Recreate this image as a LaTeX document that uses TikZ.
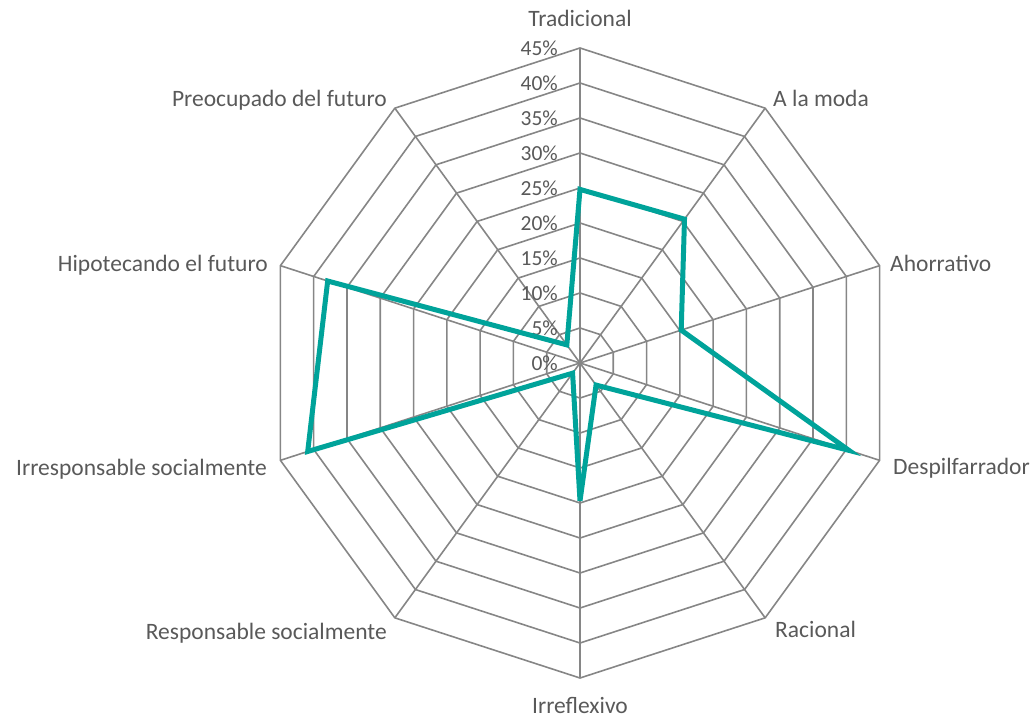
\documentclass[tikz,border=0pt]{standalone}
\usepackage{fontspec}
\setmainfont{Carlito}
\definecolor{gridgray}{HTML}{868686}
\definecolor{txtgray}{HTML}{595959}
\definecolor{dataline}{HTML}{00A39A}
\begin{document}
\begin{tikzpicture}[x=1pt,y=1pt,
  gridline/.style={gridgray, line width=1.6pt},
  catlabel/.style={text=txtgray, inner sep=0pt, font=\fontsize{23.5}{28}\selectfont},
  pctlabel/.style={text=txtgray, inner sep=0pt, anchor=base east, font=\fontsize{21.5}{26}\selectfont},
  series/.style={dataline, line width=5pt, line join=miter}]
\useasboundingbox (-580,-354) rectangle (456,363);
% grid decagons
\foreach \i in {1,...,9}{
  \pgfmathsetmacro\R{35*\i}
  \draw[gridline] (90:\R) -- (126:\R) -- (162:\R) -- (198:\R) -- (234:\R) -- (270:\R) -- (306:\R) -- (342:\R) -- (18:\R) -- (54:\R) -- cycle;
}
\coordinate (c) at (0,0);
\foreach \a [count=\k] in {90,54,18,-18,-54,-90,-126,-162,162,126}{
  \coordinate (v\k) at (\a:315);
  \draw[gridline] (c) -- (v\k);
}
% percent labels
\foreach \i in {0,...,9}{
  \pgfmathtruncatemacro\v{5*\i}
  \node[pctlabel] (p\i) at (-22,35*\i-8) {\v\%};
}
% category labels
\node[catlabel, anchor=base] (l1) at (0,336) {Tradicional};
\node[catlabel, anchor=base west] (l2) at (193,256) {A la moda};
\node[catlabel, anchor=base west] (l3) at (310,91) {Ahorrativo};
\node[catlabel, anchor=base west] (l4) at (313,-111) {Despilfarrador};
\node[catlabel, anchor=base west] (l5) at (195,-274) {Racional};
\node[catlabel, anchor=base] (l6) at (0,-350) {Irreflexivo};
\node[catlabel, anchor=base east] (l7) at (-193,-276) {Responsable socialmente};
\node[catlabel, anchor=base east] (l8) at (-313,-112) {Irresponsable socialmente};
\node[catlabel, anchor=base east] (l9) at (-312,91) {Hipotecando el futuro};
\node[catlabel, anchor=base east] (l10) at (-193,256) {Preocupado del futuro};
% data
\coordinate (d1) at (90:24.8*7);
\coordinate (d2) at (54:25.4*7);
\coordinate (d3) at (18:15.2*7);
\coordinate (d4) at (-18:40.4*7);
\coordinate (d5) at (-54:3.9*7);
\coordinate (d6) at (-90:19.7*7);
\coordinate (d7) at (-126:1.8*7);
\coordinate (d8) at (-162:40.9*7);
\coordinate (d9) at (162:37.9*7);
\coordinate (d10) at (126:3.2*7);
\draw[series] (d1) -- (d2) -- (d3) -- (d4) -- (d5) -- (d6) -- (d7) -- (d8) -- (d9) -- (d10) -- cycle;
\end{tikzpicture}
\end{document}
